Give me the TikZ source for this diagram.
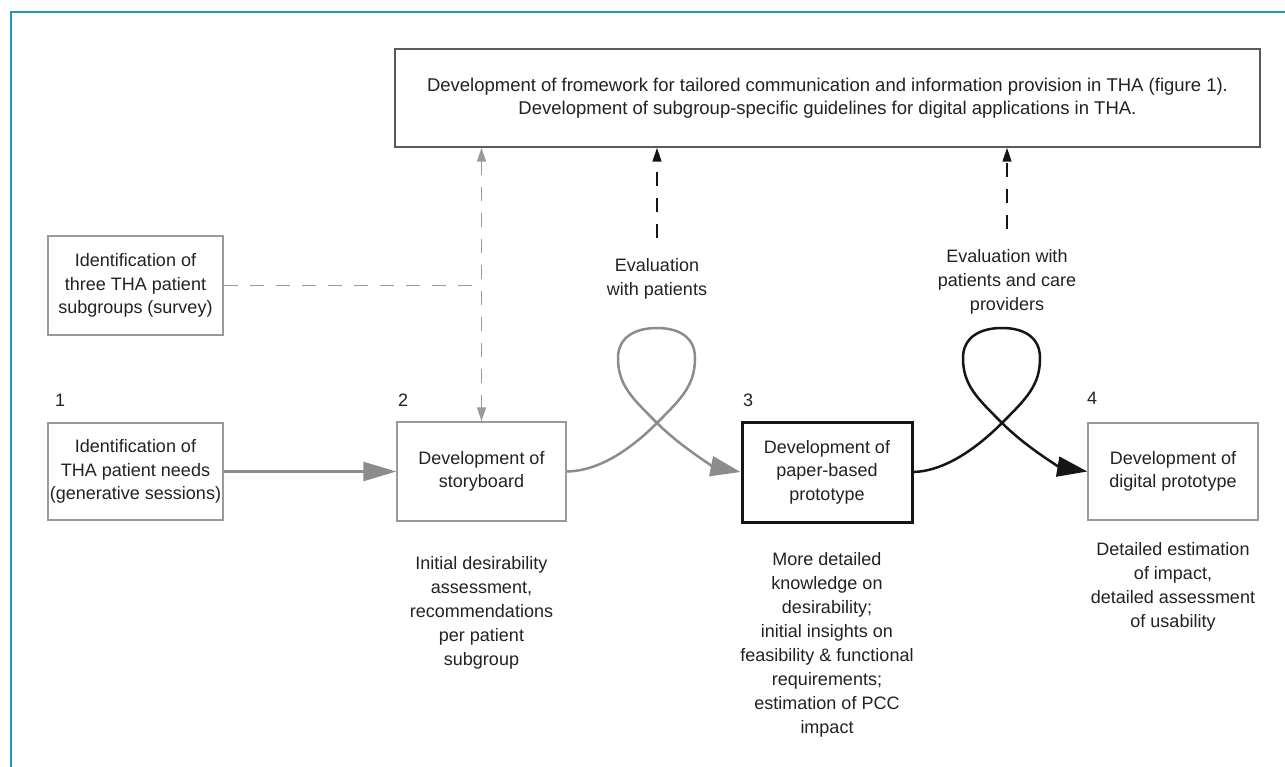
\documentclass[tikz,border=0pt]{standalone}
\usepackage{fontspec}
\setmainfont{Liberation Sans}
\usetikzlibrary{arrows.meta}
\definecolor{frameteal}{HTML}{1E9AB8}
\definecolor{textc}{HTML}{222222}
\definecolor{boxg}{HTML}{9A9A9A}
\definecolor{topc}{HTML}{5A5A5A}
\definecolor{conng}{HTML}{8C8C8C}
\definecolor{darkk}{HTML}{151515}
\begin{document}
\begin{tikzpicture}[x=1pt,y=-1pt,
  txt/.style={font=\fontsize{18}{24}\selectfont, text=textc, align=center},
  boxtxt/.style={font=\fontsize{18}{23.5}\selectfont, text=textc, align=center},
  box/.style={draw=boxg, line width=1.5pt, inner sep=0pt, boxtxt},
  lbl/.style={txt, anchor=north, inner sep=0pt},
  num/.style={txt, anchor=base west, inner sep=0pt},
  frameline/.style={draw=frameteal, line width=2.5pt, line join=miter},
  loopg/.style={draw=conng, line width=2.5pt, -{Triangle[length=30pt,width=20pt]}},
  loopk/.style={draw=darkk, line width=2.5pt, -{Triangle[length=30pt,width=20pt]}},
  straightg/.style={draw=conng, line width=2.5pt, -{Triangle[length=33pt,width=19pt]}},
  dashg/.style={draw=boxg, line width=1.5pt, dash pattern=on 14pt off 12pt},
  dashgg/.style={dashg, {Triangle[length=14pt,width=9pt]}-{Triangle[length=14pt,width=9pt]}},
  dashk/.style={draw=darkk, line width=1.5pt, dash pattern=on 14pt off 12pt, -{Triangle[length=14pt,width=9pt]}}
]
\useasboundingbox (0,0) rectangle (1285,767);
\fill[white] (0,0) rectangle (1285,767);

% frame
\draw[frameline] (1285,12) -- (11,12) -- (11,767);

% top box
\node[box, draw=topc, minimum width=865pt, minimum height=98pt,
      font=\fontsize{18.5}{23}\selectfont] (top) at (827.5,98)
  {Development of fromework for tailored communication and information provision in THA (figure 1).\\
   Development of subgroup-specific guidelines for digital applications in THA.};

% boxes
\node[box, minimum width=175pt, minimum height=99pt] (sv) at (135.5,285.5)
  {Identification of\\three THA patient\\subgroups (survey)};
\node[box, minimum width=175pt, minimum height=97pt] (b1) at (135.5,471.5)
  {Identification of\\THA patient needs\\(generative sessions)};
\node[box, minimum width=169pt, minimum height=99pt] (b2) at (481.5,471.5)
  {Development of\\storyboard};
\node[box, draw=darkk, line width=3pt, minimum width=170pt, minimum height=100pt] (b3) at (827,472)
  {Development of\\paper-based\\prototype};
\node[box, minimum width=170pt, minimum height=97pt] (b4) at (1173,471.5)
  {Development of\\digital prototype};

% numbers
\node[num] (n1) at (55,406) {1};
\node[num] (n2) at (398,406) {2};
\node[num] (n3) at (743,406) {3};
\node[num] (n4) at (1087,404) {4};

% evaluation labels
\node[lbl] (ev1) at (657,258) {Evaluation\\with patients};
\node[lbl] (ev2) at (1007,249) {Evaluation with\\patients and care\\providers};

% descriptions
\node[lbl] (d2) at (481.5,556) {Initial desirability\\assessment,\\recommendations\\per patient\\subgroup};
\node[lbl] (d3) at (827,552) {More detailed\\knowledge on\\desirability;\\initial insights on\\feasibility \& functional\\requirements;\\estimation of PCC\\impact};
\node[lbl] (d4) at (1173,542) {Detailed estimation\\of impact,\\detailed assessment\\of usability};

% dashed connectors
\draw[dashg] (sv.east) -- (sv.east -| b2.north);
\draw[dashgg] (b2.north |- top.south) -- (b2.north);
\draw[dashk] ([yshift=20pt]ev1.north) -- (ev1.north |- top.south);
\draw[dashk] ([yshift=20pt]ev2.north) -- (ev2.north |- top.south);

% straight arrow
\draw[straightg] (b1) -- (b2);

% loops
\coordinate (x1) at (657,423);
\coordinate (x2) at (1002,423);
\draw[loopg] (b2.east) .. controls (600,471) and (632,448) .. (x1)
  .. controls (682,398) and (695,385) .. (695,358)
  .. controls (695,338) and (680,328) .. (657,328)
  .. controls (634,328) and (618,338) .. (618,358)
  .. controls (618,385) and (632,398) .. (x1)
  .. controls (682,448) and (715,467) .. (b3.west);
\draw[loopk] (b3.east) .. controls (945,471) and (977,448) .. (x2)
  .. controls (1027,398) and (1040,385) .. (1040,358)
  .. controls (1040,338) and (1025,328) .. (1002,328)
  .. controls (979,328) and (963,338) .. (963,358)
  .. controls (963,385) and (977,398) .. (x2)
  .. controls (1027,448) and (1060,467) .. (b4.west);
\end{tikzpicture}
\end{document}
